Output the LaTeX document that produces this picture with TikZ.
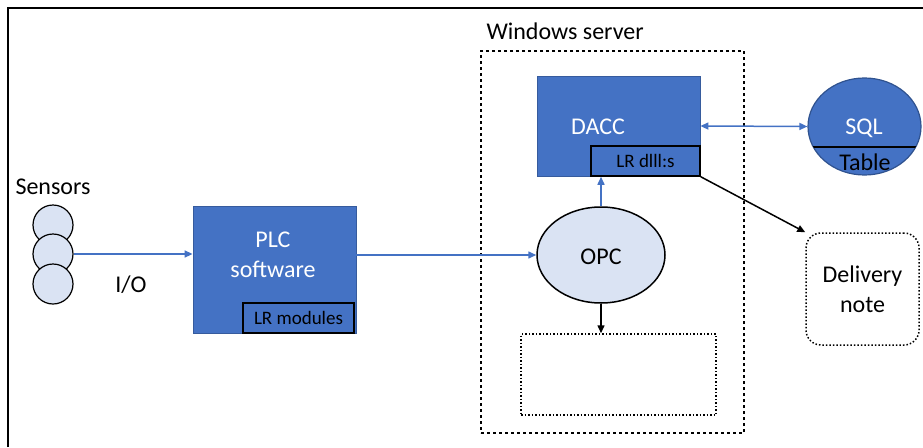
\documentclass[tikz,border=0pt]{standalone}
\usepackage{fontspec}
\setmainfont{Carlito}
\usetikzlibrary{arrows.meta,shapes.geometric}
\definecolor{mblue}{HTML}{4472C4}
\definecolor{lblue}{HTML}{DAE3F3}
\definecolor{dblue}{HTML}{2F528F}
\tikzset{
  big/.style={font=\fontsize{24}{30}\selectfont},
  small/.style={font=\fontsize{19}{22}\selectfont},
  bluebox/.style={fill=mblue, draw=mblue!80!black, line width=0.8pt, inner sep=0pt, text=white, big, align=center},
  subbox/.style={draw=black, line width=1.5pt, inner sep=0pt, small, text=black},
  sensor/.style={circle, draw=black, line width=1.2pt, fill=lblue, minimum size=40pt, inner sep=0pt},
  barrow/.style={draw=mblue, line width=1.5pt, -{Triangle[length=8pt,width=7pt]}},
  karrow/.style={draw=black, line width=1.5pt, -{Triangle[length=8pt,width=7pt]}},
}
\begin{document}
\begin{tikzpicture}[x=1pt,y=-1pt]
\useasboundingbox (0,0) rectangle (923,447);
% frame
\draw[line width=1.5pt] (8,447) -- (8,8) -- (923,8);
% sensors
\node[big, anchor=center] (senslabel) at (53,187) {Sensors};
\node[sensor] (s1) at (53,225) {};
\node[sensor] (s2) at (53,254) {};
\node[sensor] (s3) at (53,284) {};
\node[big] (io) at (131,285) {I/O};
% PLC
\node[bluebox, minimum width=163pt, minimum height=127pt] (plc) at (274.5,269.5) {};
\node[big, text=white, align=center] (plctext) at (273,255) {PLC\\software};
\node[subbox, minimum width=111pt, minimum height=30pt] (lrm) at (298.5,318) {LR modules};
% windows server
\node[draw=black, dashed, line width=1.5pt, minimum width=263pt, minimum height=382pt, inner sep=0pt] (ws) at (612.5,242) {};
\node[big, anchor=west] (wslabel) at (483,31) {Windows server};
% DACC
\node[bluebox, minimum width=163pt, minimum height=100pt] (dacc) at (618.5,126) {};
\node[big, text=white] (dacctext) at (598,127) {DACC};
\node[subbox, minimum width=109pt, minimum height=30pt] (lrd) at (645.5,161) {LR dlll:s};
% SQL
\node[ellipse, fill=mblue, draw=dblue, line width=1.2pt, minimum width=113pt, minimum height=97pt, inner sep=0pt] (sql) at (864.5,126.5) {};
\begin{scope}
\clip (sql.center) ellipse (56.5pt and 48.5pt);
\draw[line width=1.5pt] (808,147) -- (921,147);
\end{scope}
\node[big, text=white] (sqltext) at (864,128) {SQL};
\node[big, text=black] (tabletext) at (865,162) {Table};
% OPC
\node[ellipse, fill=lblue, draw=black, line width=1.5pt, minimum width=128pt, minimum height=96pt, inner sep=0pt] (opc) at (601,255) {};
\node[big] (opctext) at (601,257) {OPC};
% dotted box
\node[draw=black, dotted, line width=1.5pt, minimum width=195pt, minimum height=81pt, inner sep=0pt] (dbox) at (618.5,374.5) {};
% delivery note
\node[draw=black, dotted, line width=1.5pt, rounded corners=15pt, minimum width=113pt, minimum height=112pt, inner sep=0pt, big, align=center] (deliv) at (862.5,289) {Delivery\\note};
% connectors
\draw[barrow] (s2.east) -- (s2.east -| plc.west);
\draw[barrow] (opc.west -| plc.east) -- (opc.west);
\draw[barrow] (opc.north) -- (opc.north |- lrd.south);
\draw[draw=mblue, line width=1.5pt, {Triangle[length=8pt,width=7pt]}-{Triangle[length=8pt,width=7pt]}] (dacc.east) -- (sql.west);
\draw[karrow] (opc.south) -- (opc.south |- dbox.north);
\draw[karrow] (lrd.south east) -- (deliv.north west);
\end{tikzpicture}
\end{document}
